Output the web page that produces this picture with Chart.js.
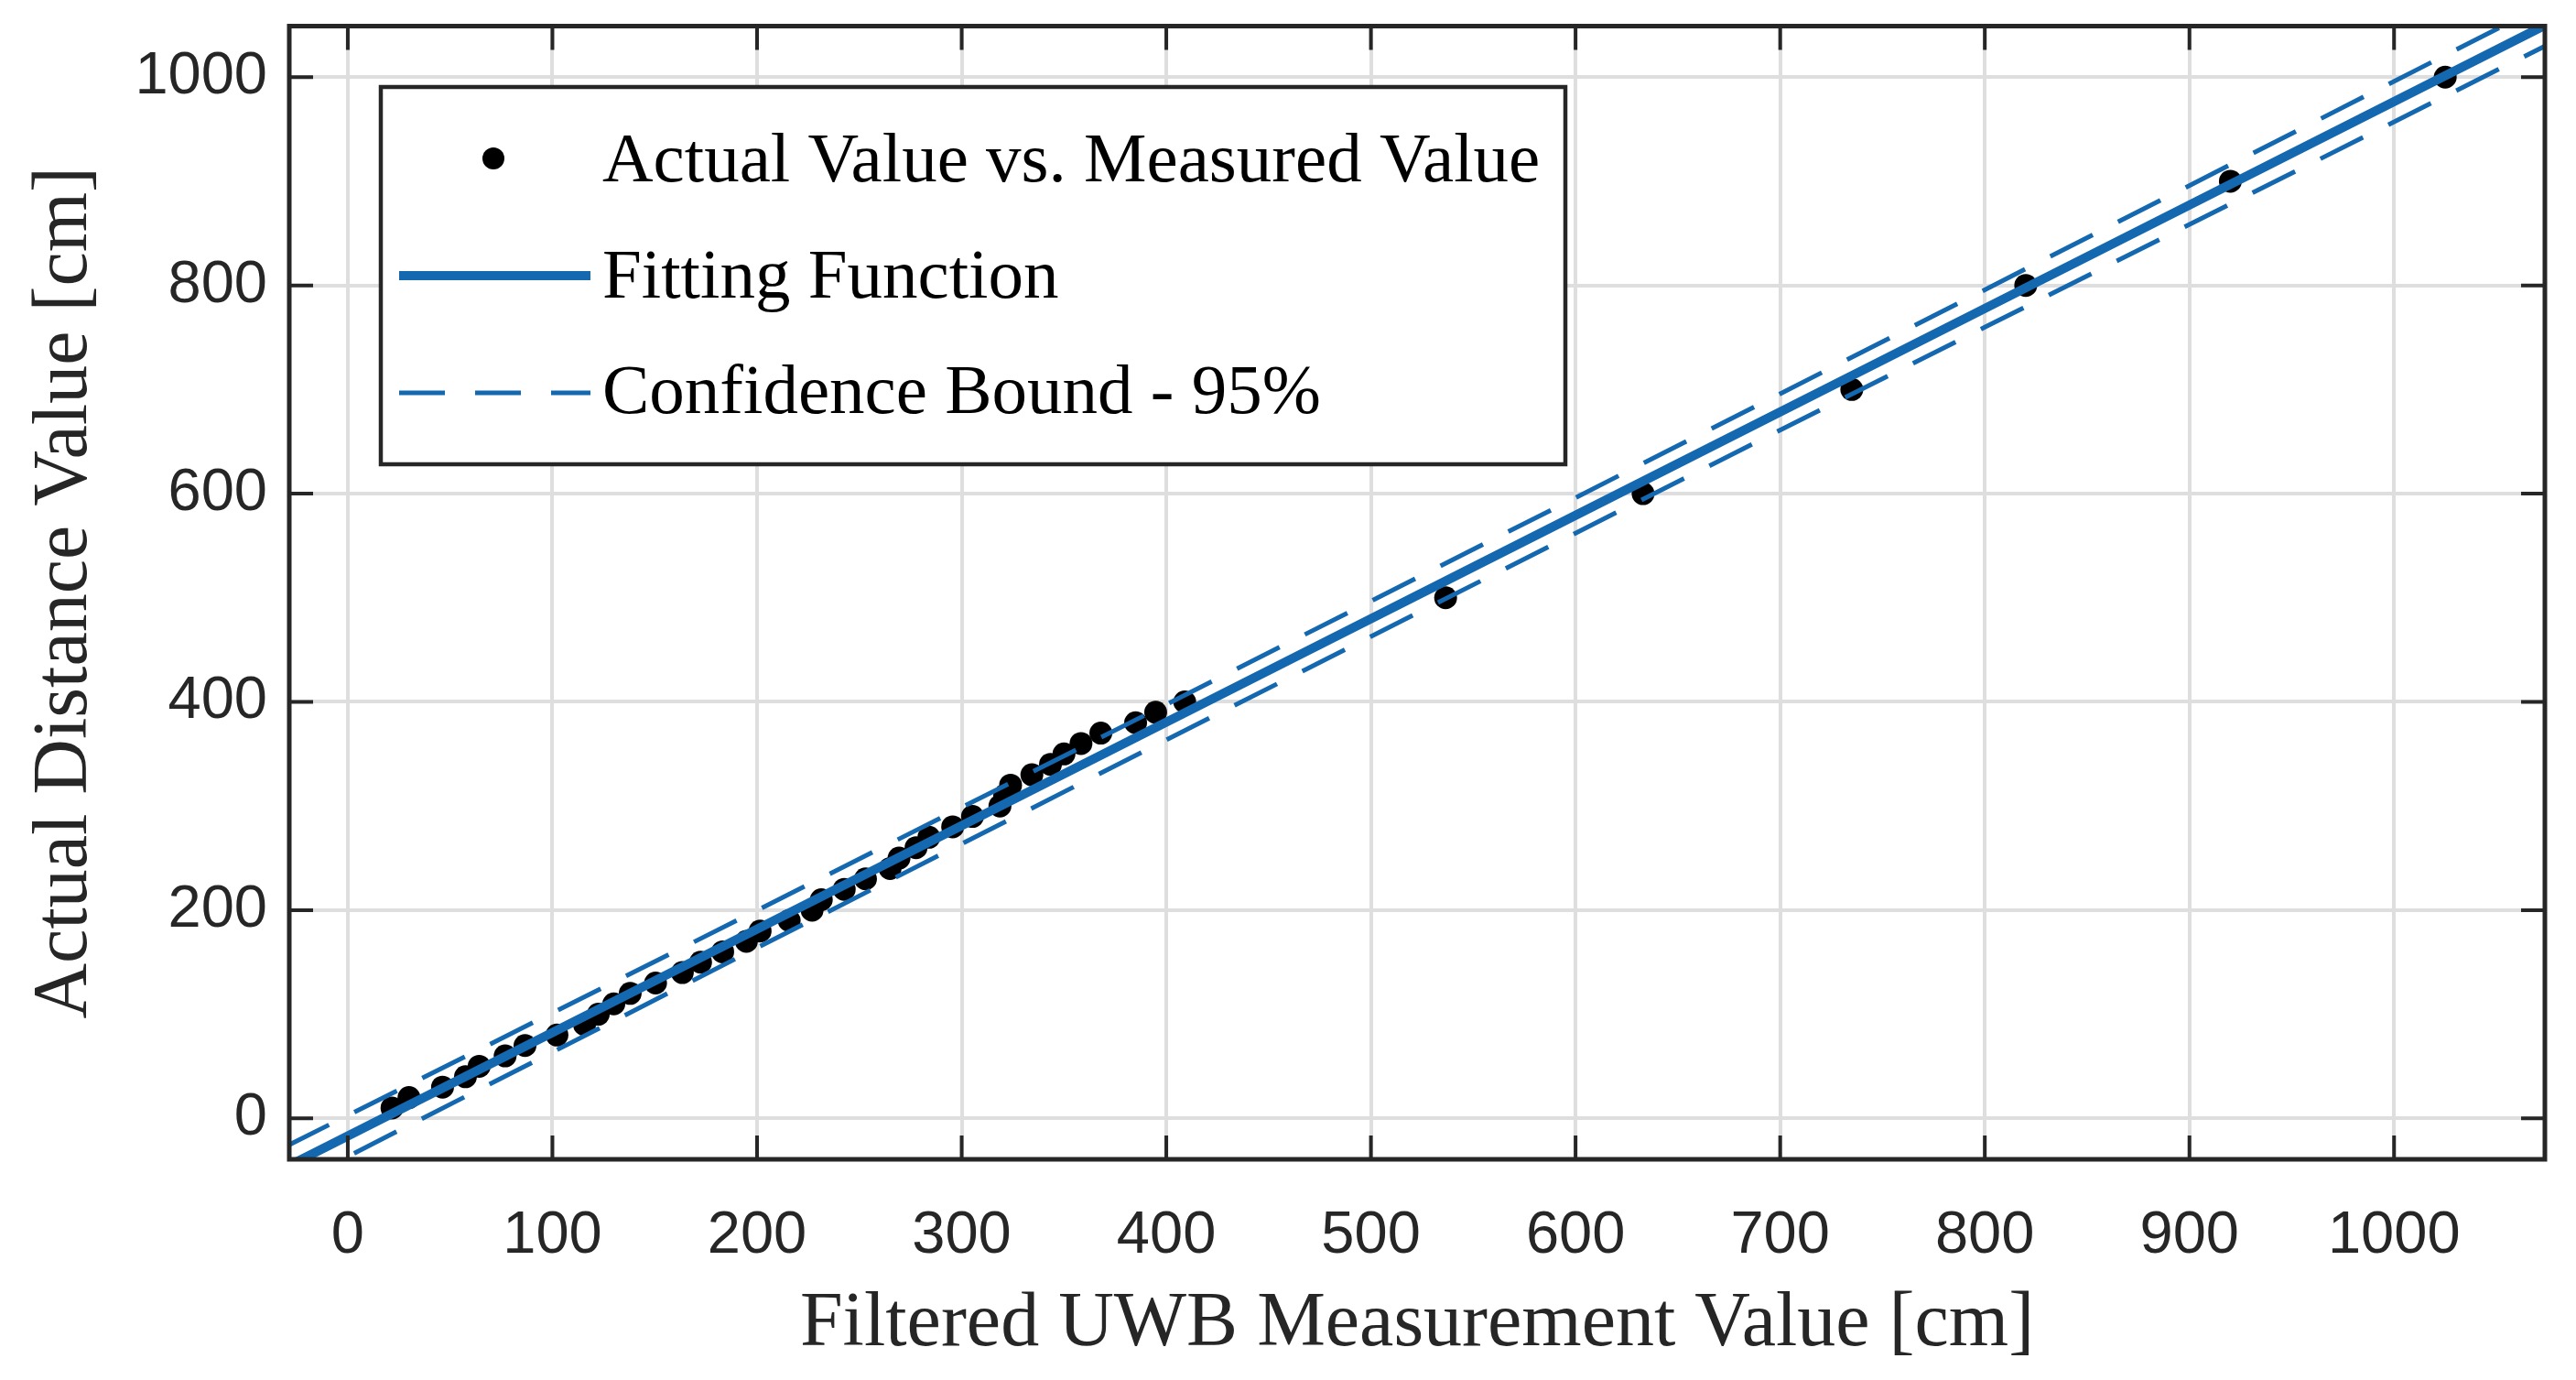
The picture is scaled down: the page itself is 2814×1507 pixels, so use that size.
<!DOCTYPE html>
<html>
<head>
<meta charset="utf-8">
<script src="https://cdn.jsdelivr.net/npm/chart.js@4.4.0/dist/chart.umd.min.js"></script>
<style>
  html, body { margin: 0; padding: 0; background: #fff; }
  #wrap { width: 2814px; height: 1507px; }
</style>
</head>
<body>
<div id="wrap"><canvas id="myChart"></canvas></div>
<script>
// measured (filtered UWB) vs actual distance, cm
const measuredValues = [21.6, 29.9, 46.3, 57.5, 64.2, 76.9, 86.6, 102.2, 115.7, 122.4,
                        130, 138, 150.4, 163.5, 172.4, 183.2, 194.8, 201.5, 215.7, 226.9,
                        231.4, 242.6, 253, 265, 269.4, 277.7, 284, 295.6, 305.3, 318.7,
                        321, 323.9, 334.3, 343.4, 350, 358.3, 368, 385, 394.8, 409,
                        536.5, 633, 735, 820, 920, 1025]
const actualValues = [10, 20, 30, 40, 50, 60, 70, 80, 90, 100,
                      110, 120, 130, 140, 150, 160, 170, 180, 190, 200,
                      210, 220, 230, 240, 250, 260, 270, 280, 290, 300,
                      310, 320, 330, 340, 350, 360, 370, 380, 390, 400,
                      500, 600, 700, 800, 900, 1000]

// fitted line and 95% bounds
const fitX   = [-30, 200, 400, 600, 800, 1080]
const fitY   = [-46.7, 181.8, 380.5, 579.1, 777.8, 1056]
const upperY = [-26.7, 199.8, 397.5, 596.1, 795.8, 1076]
const lowerY = [-66.7, 163.8, 363.5, 562.1, 759.8, 1036]

const xTicks = [0, 100, 200, 300, 400, 500, 600, 700, 800, 900, 1000]
const yTicks = [0, 200, 400, 600, 800, 1000]

const legendLabels = ['Actual Value vs. Measured Value', 'Fitting Function', 'Confidence Bound - 95%']

const BLUE = '#1468b0'
const AXIS = '#262626'

function toPoints(xs, ys) {
    return xs.map((v, i) => ({x: v, y: ys[i]}))
}

// box, inward ticks and the legend, like the matlab axes
const axesBox = {
    id: 'axesBox',
    afterDatasetsDraw(chart) {
        const {ctx, chartArea: a, scales} = chart
        const sx = scales.x, sy = scales.y
        ctx.save()
        ctx.strokeStyle = AXIS
        ctx.lineWidth = 4
        ctx.beginPath()
        xTicks.forEach(v => {
            const px = sx.getPixelForValue(v)
            ctx.moveTo(px, a.bottom); ctx.lineTo(px, a.bottom - 26)
            ctx.moveTo(px, a.top); ctx.lineTo(px, a.top + 26)
        })
        yTicks.forEach(v => {
            const py = sy.getPixelForValue(v)
            ctx.moveTo(a.left, py); ctx.lineTo(a.left + 26, py)
            ctx.moveTo(a.right, py); ctx.lineTo(a.right - 26, py)
        })
        ctx.stroke()
        ctx.lineWidth = 5
        ctx.strokeRect(a.left, a.top, a.right - a.left, a.bottom - a.top)

        // legend
        const lx = 416, ly = 95, lw = 1294, lh = 412
        ctx.fillStyle = '#fff'
        ctx.fillRect(lx, ly, lw, lh)
        ctx.lineWidth = 4.5
        ctx.strokeStyle = AXIS
        ctx.strokeRect(lx, ly, lw, lh)

        ctx.fillStyle = '#000'
        ctx.beginPath()
        ctx.arc(539, 173, 12, 0, Math.PI * 2)
        ctx.fill()

        ctx.strokeStyle = BLUE
        ctx.lineWidth = 10
        ctx.beginPath()
        ctx.moveTo(436, 301); ctx.lineTo(645, 301)
        ctx.stroke()

        ctx.lineWidth = 5
        ctx.setLineDash([50, 33])
        ctx.beginPath()
        ctx.moveTo(436, 429); ctx.lineTo(645, 429)
        ctx.stroke()
        ctx.setLineDash([])

        ctx.fillStyle = '#000'
        ctx.font = '77px "Liberation Serif"'
        ctx.textBaseline = 'alphabetic'
        ctx.textAlign = 'left'
        ctx.fillText(legendLabels[0], 658, 198)
        ctx.fillText(legendLabels[1], 658, 325)
        ctx.fillText(legendLabels[2], 658, 451)
        ctx.restore()
    }
}

function drawChart() {
    const ctx = document.getElementById('myChart')

    const data = {
        datasets: [{
            label: legendLabels[2],
            data: toPoints(fitX, upperY),
            showLine: true,
            borderColor: BLUE,
            borderWidth: 5,
            borderDash: [52, 31],
            pointRadius: 0,
            clip: 0,
            order: 0
        }, {
            label: legendLabels[2],
            data: toPoints(fitX, lowerY),
            showLine: true,
            borderColor: BLUE,
            borderWidth: 5,
            borderDash: [52, 31],
            pointRadius: 0,
            clip: 0,
            order: 0
        }, {
            label: legendLabels[1],
            data: toPoints(fitX, fitY),
            showLine: true,
            borderColor: BLUE,
            borderWidth: 10,
            pointRadius: 0,
            clip: 0,
            order: 1
        }, {
            label: legendLabels[0],
            data: toPoints(measuredValues, actualValues),
            showLine: false,
            pointRadius: 12.5,
            pointBackgroundColor: '#000',
            pointBorderWidth: 0,
            clip: 0,
            order: 2
        }]
    }

    const tickFont = {family: 'Liberation Sans', size: 65}

    const config = {
        type: 'scatter',
        data: data,
        plugins: [axesBox],
        options: {
            responsive: true,
            maintainAspectRatio: false,
            animation: false,
            devicePixelRatio: 1,
            layout: {padding: {top: 28.5, right: 34, left: 0, bottom: 0}},
            plugins: {legend: {display: false}, tooltip: {enabled: false}},
            scales: {
                x: {
                    type: 'linear',
                    min: -28.6,
                    max: 1073.7,
                    afterBuildTicks: s => { s.ticks = xTicks.map(v => ({value: v})) },
                    afterFit: s => { s.height = 241; s.paddingLeft = 0; s.paddingRight = 0 },
                    grid: {color: '#dedede', lineWidth: 4, drawTicks: false},
                    border: {display: false},
                    ticks: {color: AXIS, font: tickFont, padding: 45, maxRotation: 0,
                            callback: v => String(v)},
                    title: {
                        display: true,
                        text: 'Filtered UWB Measurement Value [cm]',
                        color: AXIS,
                        font: {family: 'Liberation Serif', size: 84},
                        padding: {top: 0, bottom: 10}
                    }
                },
                y: {
                    type: 'linear',
                    min: -39.3,
                    max: 1049,
                    afterBuildTicks: s => { s.ticks = yTicks.map(v => ({value: v})) },
                    afterFit: s => { s.width = 316; s.paddingTop = 0; s.paddingBottom = 0 },
                    grid: {color: '#dedede', lineWidth: 4, drawTicks: false},
                    border: {display: false},
                    ticks: {color: AXIS, font: tickFont, padding: 24,
                            callback: v => String(v)},
                    title: {
                        display: true,
                        text: 'Actual Distance Value [cm]',
                        color: AXIS,
                        font: {family: 'Liberation Serif', size: 84},
                        padding: {top: 22, bottom: 0}
                    }
                }
            }
        }
    }

    new Chart(ctx, config)
}

document.addEventListener('DOMContentLoaded', drawChart)
</script>
</body>
</html>
